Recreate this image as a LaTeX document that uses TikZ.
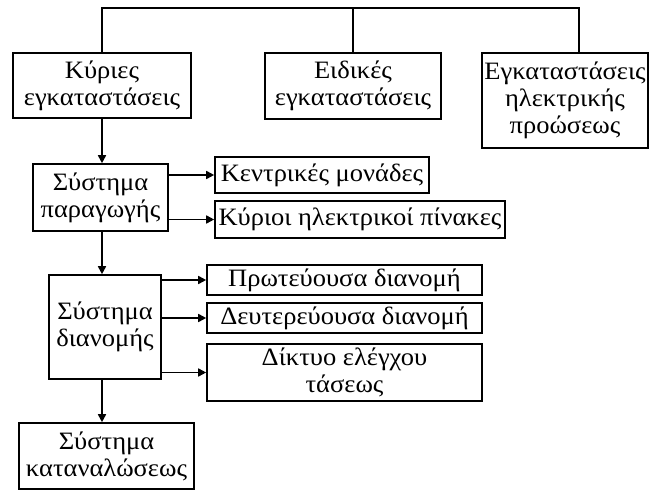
\documentclass[tikz,border=0pt]{standalone}
\usepackage{fontspec}
\setmainfont{Liberation Serif}[FakeStretch=1.06]
\usetikzlibrary{arrows.meta}
\tikzset{
  box/.style={draw, line width=1.6pt, inner sep=0pt, align=center,
    font=\fontsize{25}{27}\selectfont},
  arr/.style={line width=1.6pt, -{Triangle[length=8pt,width=8pt]}},
  ln/.style={line width=1.6pt}
}
\begin{document}
\begin{tikzpicture}[x=1pt,y=-1pt]
\useasboundingbox[fill=white] (0,0) rectangle (649,490);
% top row
\node[box, minimum width=178pt, minimum height=65pt] (kyr) at (102,85.5) {Κύριες\\εγκαταστάσεις};
\node[box, minimum width=176pt, minimum height=66pt] (eid) at (353,86) {Ειδικές\\εγκαταστάσεις};
\node[box, minimum width=166pt, minimum height=95pt] (ilk) at (565,100.5) {Εγκαταστάσεις\\ηλεκτρικής\\προώσεως};
\coordinate (tr) at (579,8);
\coordinate (t3) at (579,53);
\draw[ln] (kyr.north) |- (tr) -- (t3);
\draw[ln] (eid.north) -- (eid.north |- tr);
% production
\node[box, minimum width=135pt, minimum height=67pt] (par) at (100.5,197.5) {Σύστημα\\παραγωγής};
\node[box, minimum width=214pt, minimum height=36pt] (ken) at (322,175) {Κεντρικές μονάδες};
\node[box, minimum width=290pt, minimum height=37pt] (pin) at (360,219.5) {Κύριοι ηλεκτρικοί πίνακες};
\draw[arr] (kyr.south) -- (kyr.south |- par.north);
\draw[arr] (par.east |- ken) -- (ken.west);
\draw[arr] (par.east |- pin) -- (pin.west);
% distribution
\node[box, minimum width=112pt, minimum height=104pt] (dia) at (105,327) {Σύστημα\\διανομής};
\node[box, minimum width=275pt, minimum height=30pt] (prt) at (344.5,280) {Πρωτεύουσα διανομή};
\node[box, minimum width=275pt, minimum height=30pt] (deu) at (344.5,318) {Δευτερεύουσα διανομή};
\node[box, minimum width=275pt, minimum height=57pt] (dik) at (344.5,372.5) {Δίκτυο ελέγχου\\τάσεως};
\draw[arr] (kyr.south |- par.south) -- (kyr.south |- dia.north);
\draw[arr] (dia.east |- prt) -- (prt.west);
\draw[arr] (dia.east |- deu) -- (deu.west);
\draw[arr] (dia.east |- dik) -- (dik.west);
% consumption
\node[box, minimum width=175pt, minimum height=66pt] (kat) at (106.5,456) {Σύστημα\\καταναλώσεως};
\draw[arr] (kyr.south |- dia.south) -- (kyr.south |- kat.north);
\end{tikzpicture}
\end{document}
